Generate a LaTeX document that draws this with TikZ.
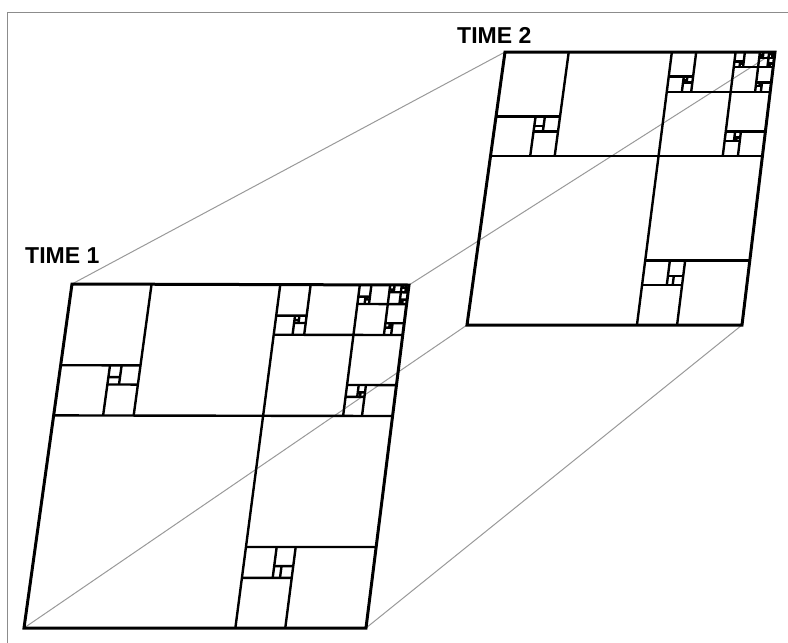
\documentclass[tikz,border=0pt]{standalone}
\usepackage{fontspec}
\setmainfont{Liberation Sans}
\def\ga{0.6180340}
\newcommand\MapPt[2]{%
  \pgfmathsetmacro\px{(1-(#2))*((1-(#1))*\bLx+(#1)*\bRx)+(#2)*((1-(#1))*\tLx+(#1)*\tRx)}%
  \pgfmathsetmacro\py{(1-(#2))*((1-(#1))*\bLy+(#1)*\bRy)+(#2)*((1-(#1))*\tLy+(#1)*\tRy)}%
}
\newcommand\Ln[4]{%
  \ifnum\smir=1 \MapPt{#2}{#1}\else\MapPt{#1}{#2}\fi
  \edef\pxa{\px}\edef\pya{\py}%
  \ifnum\smir=1 \MapPt{#4}{#3}\else\MapPt{#3}{#4}\fi
  \draw[inner] (\pxa,\pya) -- (\px,\py);}
\newcommand\Spiral[5]{%
  \xdef\sxa{#1}\xdef\sya{#2}\xdef\sxb{#3}\xdef\syb{#4}\xdef\smir{#5}%
  \foreach \kk in {0,1,2,3,0,1}{%
    \ifcase\kk\relax
      \pgfmathsetmacro\cc{\sxb-(\syb-\sya)}%
      \Ln{\cc}{\sya}{\cc}{\syb}%
      \xdef\sxb{\cc}%
    \or
      \pgfmathsetmacro\cc{\syb-(\sxb-\sxa)}%
      \Ln{\sxa}{\cc}{\sxb}{\cc}%
      \xdef\syb{\cc}%
    \or
      \pgfmathsetmacro\cc{\sxa+(\syb-\sya)}%
      \Ln{\cc}{\sya}{\cc}{\syb}%
      \xdef\sxa{\cc}%
    \or
      \pgfmathsetmacro\cc{\sya+(\sxb-\sxa)}%
      \Ln{\sxa}{\cc}{\sxb}{\cc}%
      \xdef\sya{\cc}%
    \fi}}
\newcommand\Sq[4]{%
  \ifnum#4>0
    \pgfmathsetmacro\ma{#1+\ga*#3}%
    \pgfmathsetmacro\mb{#2+\ga*#3}%
    \pgfmathsetmacro\me{#1+#3}%
    \pgfmathsetmacro\mf{#2+#3}%
    \xdef\smir{0}%
    \Ln{\ma}{#2}{\ma}{\mf}%
    \Ln{#1}{\mb}{\me}{\mb}%
    \Spiral{#1}{\mb}{\ma}{\mf}{0}%
    \Spiral{#2}{\ma}{\mb}{\me}{1}%
    \pgfmathsetmacro\ns{(1-\ga)*#3}%
    \pgfmathtruncatemacro\nd{#4-1}%
    \edef\next{\noexpand\Sq{\ma}{\mb}{\ns}{\nd}}\next
  \fi}
\tikzset{
  inner/.style={draw=black, line width=2.4pt},
  outer/.style={draw=black, line width=3pt, line join=miter},
  conn/.style={draw=black!40, line width=1pt},
  framec/.style={draw=black!45, line width=1pt},
  lbl/.style={font=\bfseries\fontsize{23}{23}\selectfont, inner sep=0pt, anchor=base west}
}
\begin{document}
\begin{tikzpicture}[x=1pt,y=-1pt]
\useasboundingbox (0,0) rectangle (788,643);
\draw[framec] (7,643) -- (7,12) -- (788,12);
% corners
\coordinate (bl1) at (24,628);
\coordinate (br1) at (366,628);
\coordinate (tl1) at (72,284);
\coordinate (tr1) at (409,285);
\coordinate (bl2) at (467,325);
\coordinate (br2) at (742,325);
\coordinate (tl2) at (505,52);
\coordinate (tr2) at (775,52);
% connectors
\draw[conn] (bl1) -- (bl2);
\draw[conn] (br1) -- (br2);
\draw[conn] (tl1) -- (tl2);
\draw[conn] (tr1) -- (tr2);
% figure 1
\def\bLx{24}\def\bLy{628}\def\bRx{366}\def\bRy{628}
\def\tLx{72}\def\tLy{284}\def\tRx{409}\def\tRy{285}
\Sq{0}{0}{1}{5}
\draw[outer] (bl1) -- (br1) -- (tr1) -- (tl1) -- cycle;
% figure 2
\def\bLx{467}\def\bLy{325}\def\bRx{742}\def\bRy{325}
\def\tLx{505}\def\tLy{52}\def\tRx{775}\def\tRy{52}
\Sq{0}{0}{1}{5}
\draw[outer] (bl2) -- (br2) -- (tr2) -- (tl2) -- cycle;
% labels
\node[lbl] (t1) at (25,263) {TIME 1};
\node[lbl] (t2) at (457,43) {TIME 2};
\end{tikzpicture}
\end{document}
